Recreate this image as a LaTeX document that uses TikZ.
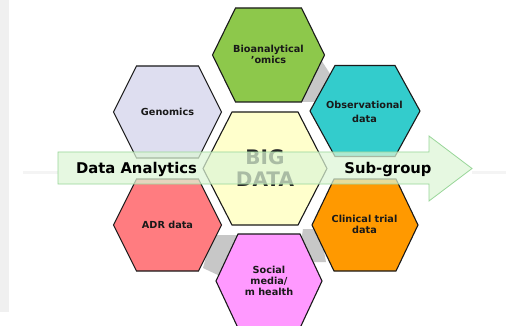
\documentclass[tikz,border=0pt]{standalone}
\usepackage{fontspec}
\setmainfont{DejaVu Sans}
\begin{document}
\begin{tikzpicture}[x=1pt,y=-1pt,
  hexline/.style={draw=black!90,line width=1.1pt,line join=miter},
  shade band/.style={fill=black!22,draw=none},
  label/.style={font=\bfseries\fontsize{9.7}{11}\selectfont,align=center,text=black!90,inner sep=0pt},
  biglabel/.style={font=\bfseries\fontsize{20}{22}\selectfont,align=center,text=black!85,inner sep=0pt},
  arrowlabel/.style={font=\bfseries\fontsize{14.8}{17}\selectfont,text=black,inner sep=0pt},
  bandarrow/.style={fill opacity=0.72,draw=black!40!green!40,line width=0.8pt}]
\definecolor{bioG}{HTML}{8DC84B}
\definecolor{obsC}{HTML}{33CCCC}
\definecolor{genL}{HTML}{DEDEF0}
\definecolor{adrR}{HTML}{FF7C80}
\definecolor{cliO}{HTML}{FF9900}
\definecolor{socP}{HTML}{FF99FF}
\definecolor{coreY}{HTML}{FFFFCC}
\definecolor{bandG}{HTML}{DDF6D6}
% hexagon: centre x, centre y, half width, half height, half top edge, fill
\newcommand{\hexcell}[6]{%
  \filldraw[hexline,fill=#6] (#1-#3,#2) -- (#1-#5,#2-#4) -- (#1+#5,#2-#4)
    -- (#1+#3,#2) -- (#1+#5,#2+#4) -- (#1-#5,#2+#4) -- cycle;}
\useasboundingbox (0,0) rectangle (506,326);
\fill[white] (0,0) rectangle (506,326);
% side strip
\fill[black!6] (0,0) rectangle (9,312);
% faint streaks on the axis of the arrow
\fill[black!7,opacity=0.6] (23,171) rectangle (58,173.5);
\fill[black!7,opacity=0.6] (472,171) rectangle (506,173.5);
% grey bands joining neighbouring cells
\fill[shade band] (316,52) -- (334,80) -- (320,102) -- (296,102) -- cycle;
\fill[shade band] (212,235) -- (241,235) -- (220,276) -- (203,268) -- cycle;
\fill[shade band] (303,229) -- (320,229) -- (326,262) -- (298,262) -- cycle;
% cells
\hexcell{268.5}{55}{56}{47}{33}{bioG}
\hexcell{167.5}{112}{54}{46}{31}{genL}
\hexcell{365}{111}{55}{45.5}{30}{obsC}
\hexcell{265}{168.5}{62}{56.5}{33}{coreY}
\hexcell{167.5}{225}{54}{46}{31}{adrR}
\hexcell{365}{225}{53}{46}{31}{cliO}
\hexcell{269}{281}{53}{47}{31}{socP}
% cell labels
\node[label] (bio) at (268.5,54.5) {Bioanalytical\\[-0.2pt]’omics};
\node[label] (gen) at (167.5,112) {Genomics};
\node[label] (obs) at (364.5,112) {Observational\\[2.5pt]data};
\node[biglabel] (core) at (265,168) {BIG\\DATA};
\node[label] (adr) at (167.5,224.5) {ADR data};
\node[label] (cli) at (364.5,224.5) {Clinical trial\\data};
\node[label] (soc) at (269,280.5) {Social\\media/\\m health};
% translucent arrow across the cluster
\filldraw[bandarrow,fill=bandG] (58,152) -- (429,152) -- (429,136) -- (472,168.5)
  -- (429,201) -- (429,184) -- (58,184) -- cycle;
\node[arrowlabel] (left) at (136.5,169) {Data Analytics};
\node[arrowlabel] (right) at (388,169) {Sub-group};
\end{tikzpicture}
\end{document}
